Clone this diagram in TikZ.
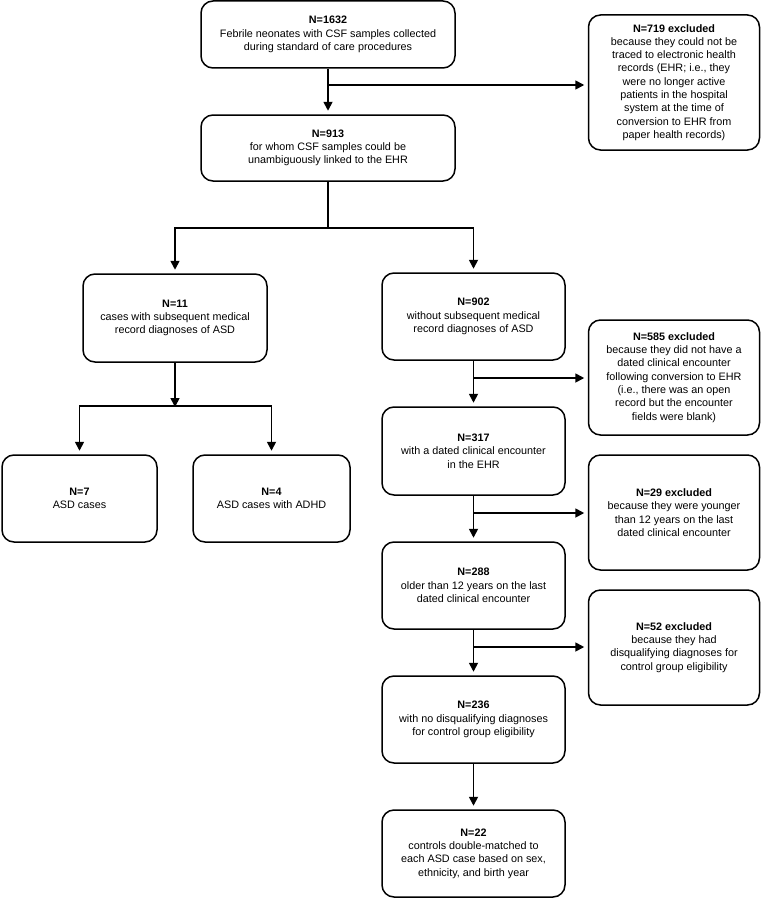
\documentclass[tikz,border=0pt]{standalone}
\usepackage{fontspec}
\setmainfont{Liberation Sans}
\usetikzlibrary{arrows.meta,calc}
\begin{document}
\begin{tikzpicture}[x=1pt,y=-1pt,
  box/.style={draw,line width=1.5pt,rounded corners=12pt,inner sep=0pt,align=center,
    font=\fontsize{10.8pt}{13.3pt}\selectfont},
  line/.style={line width=1.7pt},
  arr/.style={line width=1.7pt,-{Triangle[width=9pt,length=9pt]},shorten >=3.5pt}]
\useasboundingbox (0,0) rectangle (762,899);
% boxes
\node[box,minimum width=254pt,minimum height=67pt] (A) at (328,34.5)
  {\textbf{N=1632}\\Febrile neonates with CSF samples collected\\during standard of care procedures};
\node[box,minimum width=254pt,minimum height=66pt] (B) at (328,148)
  {\textbf{N=913}\\for whom CSF samples could be\\unambiguously linked to the EHR};
\node[box,minimum width=171pt,minimum height=135pt] (E1) at (674,82.5)
  {\textbf{N=719 excluded}\\because they could not be\\traced to electronic health\\records (EHR; i.e., they\\were no longer active\\patients in the hospital\\system at the time of\\conversion to EHR from\\paper health records)};
\node[box,minimum width=184pt,minimum height=88pt] (C) at (175,318)
  {\textbf{N=11}\\cases with subsequent medical\\record diagnoses of ASD};
\node[box,minimum width=183pt,minimum height=87pt] (D) at (473.5,316.5)
  {\textbf{N=902}\\without subsequent medical\\record diagnoses of ASD};
\node[box,minimum width=155pt,minimum height=87pt] (C1) at (79.5,498.5)
  {\textbf{N=7}\\ASD cases};
\node[box,minimum width=157pt,minimum height=87pt] (C2) at (271.5,498.5)
  {\textbf{N=4}\\ASD cases with ADHD};
\node[box,minimum width=171pt,minimum height=115pt] (E2) at (674,377.5)
  {\textbf{N=585 excluded}\\because they did not have a\\dated clinical encounter\\following conversion to EHR\\(i.e., there was an open\\record but the encounter\\fields were blank)};
\node[box,minimum width=183pt,minimum height=88pt] (F) at (473.5,451)
  {\textbf{N=317}\\with a dated clinical encounter\\in the EHR};
\node[box,minimum width=171pt,minimum height=115pt] (E3) at (674,512.5)
  {\textbf{N=29 excluded}\\because they were younger\\than 12 years on the last\\dated clinical encounter};
\node[box,minimum width=183pt,minimum height=87pt] (G) at (473.5,585.5)
  {\textbf{N=288}\\older than 12 years on the last\\dated clinical encounter};
\node[box,minimum width=171pt,minimum height=115pt] (E4) at (674,647.5)
  {\textbf{N=52 excluded}\\because they had\\disqualifying diagnoses for\\control group eligibility};
\node[box,minimum width=183pt,minimum height=87pt] (H) at (473.5,719.5)
  {\textbf{N=236}\\with no disqualifying diagnoses\\for control group eligibility};
\node[box,minimum width=183pt,minimum height=87pt] (I) at (473.5,853.5)
  {\textbf{N=22}\\controls double-matched to\\each ASD case based on sex,\\ethnicity, and birth year};
% junctions
\coordinate (j1) at (328,85);
\coordinate (j2) at (328,228);
\coordinate (j3) at (175,407);
\coordinate (j4) at (473.5,378);
\coordinate (j5) at (473.5,513);
\coordinate (j6) at (473.5,647);
% connectors
\draw[arr] (A.south) -- (B.north);
\draw[arr] (j1) -- (j1 -| E1.west);
\draw[line] (B.south) -- (j2);
\draw[arr] (j2) -| (C.north);
\draw[arr] (j2) -| (D.north);
\draw[arr,shorten >=0pt] (C.south) -- (j3);
\draw[arr] ($(j3)+(0,-0.85)$) -| (C1.north);
\draw[arr] ($(j3)+(0,-0.85)$) -| (C2.north);
\draw[arr] (D.south) -- (F.north);
\draw[arr] (j4) -- (j4 -| E2.west);
\draw[arr] (F.south) -- (G.north);
\draw[arr] (j5) -- (j5 -| E3.west);
\draw[arr] (G.south) -- (H.north);
\draw[arr] (j6) -- (j6 -| E4.west);
\draw[arr] (H.south) -- (I.north);
\end{tikzpicture}
\end{document}
